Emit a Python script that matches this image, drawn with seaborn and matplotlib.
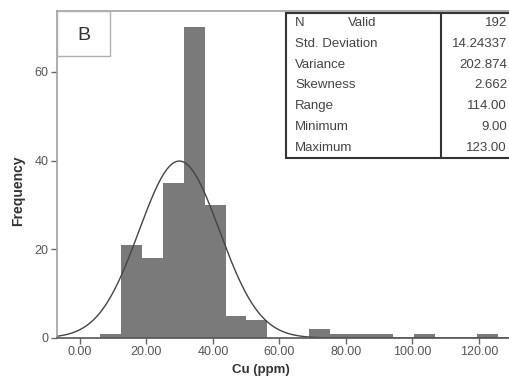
import numpy as np
import pandas as pd
import matplotlib
matplotlib.use("Agg")
import matplotlib.pyplot as plt
import seaborn as sns
from matplotlib.patches import Rectangle

# ---- data ----
bin_edges = [6.0, 12.3, 18.6, 24.9, 31.2, 37.5, 43.8, 50.1, 56.4, 62.7, 69.0,
             75.3, 81.6, 87.9, 94.2, 100.5, 106.8, 113.1, 119.4, 125.7]
counts = [1, 21, 18, 35, 70, 30, 5, 4, 0, 0, 2, 1, 1, 1, 0, 1, 0, 0, 1]
curve_mean = 29.9
curve_sd = 12.1
n_total = 192
bin_width = 6.3
x_ticks = [0, 20, 40, 60, 80, 100, 120]
x_tick_labels = ["0.00", "20.00", "40.00", "60.00", "80.00", "100.00", "120.00"]
y_ticks = [0, 20, 40, 60]
y_tick_labels = ["0", "20", "40", "60"]
stat_names = ["N", "Std. Deviation", "Variance", "Skewness",
              "Range", "Minimum", "Maximum"]
stat_sub = ["Valid", "", "", "", "", "", ""]
stat_values = ["192", "14.24337", "202.874", "2.662", "114.00", "9.00", "123.00"]
panel_label = "B"

sns.set_theme(style="white")
plt.rcParams["font.family"] = ["Liberation Sans", "DejaVu Sans"]

W, H = 509, 381
fig = plt.figure(figsize=(W / 100, H / 100), dpi=100)
ax_left, ax_right, ax_top, ax_bot = 57, 512, 11, 338
ax = fig.add_axes([ax_left / W, 1 - ax_bot / H, (ax_right - ax_left) / W, (ax_bot - ax_top) / H])

centers = [(bin_edges[i] + bin_edges[i + 1]) / 2 for i in range(len(counts))]
df = pd.DataFrame({"x": centers, "w": counts})
sns.histplot(data=df, x="x", weights="w", bins=bin_edges, ax=ax,
             color="#7a7a7a", alpha=1.0, edgecolor="none", linewidth=0)

xs = np.linspace(-8, 130, 600)
ys = n_total * bin_width / (curve_sd * np.sqrt(2 * np.pi)) * np.exp(-0.5 * ((xs - curve_mean) / curve_sd) ** 2)
sns.lineplot(x=xs, y=ys, ax=ax, color="#444444", linewidth=1.0)

ax.set_xlim(-6.9, 130)
ax.set_ylim(0, 73.7)
ax.set_xticks(x_ticks)
ax.set_xticklabels(x_tick_labels, fontsize=9, color="#555555")
ax.set_yticks(y_ticks)
ax.set_yticklabels(y_tick_labels, fontsize=9, color="#555555")
ax.tick_params(axis="both", direction="out", length=4, width=1, color="#666666", pad=2,
               bottom=True, left=True)
ax.set_xlabel("")
ax.set_ylabel("")
for s in ["left", "top"]:
    ax.spines[s].set_color("#a0a0a0")
    ax.spines[s].set_linewidth(1.2)
ax.spines["bottom"].set_color("#555555")
ax.spines["bottom"].set_linewidth(1.2)
ax.spines["right"].set_visible(False)

fig.text(18 / W, 1 - 191 / H, "Frequency", rotation=90, ha="center", va="center",
         fontsize=10, fontweight="bold", color="#333333")
fig.text(261 / W, 1 - 370 / H, "Cu (ppm)", ha="center", va="center",
         fontsize=9.5, fontweight="bold", color="#333333")

# panel label box
fig.patches.append(Rectangle((57 / W, 1 - 56 / H), (110 - 57) / W, (56 - 11) / H,
                             transform=fig.transFigure, fill=True, facecolor="white",
                             edgecolor="#b0b0b0", linewidth=1.0))
fig.text(84 / W, 1 - 35 / H, panel_label, ha="center", va="center", fontsize=14, color="#333333")

# stats table
t_left, t_div, t_right, t_top, t_bot = 286, 441, 512, 13, 158
fig.patches.append(Rectangle((t_left / W, 1 - t_bot / H), (t_right - t_left) / W, (t_bot - t_top) / H,
                             transform=fig.transFigure, fill=True, facecolor="white",
                             edgecolor="#333333", linewidth=1.5))
fig.lines.append(plt.Line2D([t_div / W, t_div / W], [1 - t_top / H, 1 - t_bot / H],
                            transform=fig.transFigure, color="#333333", linewidth=1.5))
row_h = (t_bot - t_top) / len(stat_names)
for i, (nm, sub, val) in enumerate(zip(stat_names, stat_sub, stat_values)):
    yc = t_top + row_h * (i + 0.5)
    fig.text(295 / W, 1 - yc / H, nm, ha="left", va="center", fontsize=9.5, color="#444444")
    if sub:
        fig.text(348 / W, 1 - yc / H, sub, ha="left", va="center", fontsize=9.5, color="#444444")
    fig.text(507 / W, 1 - yc / H, val, ha="right", va="center", fontsize=9.5, color="#444444")

fig.savefig("out.png", dpi=100)
